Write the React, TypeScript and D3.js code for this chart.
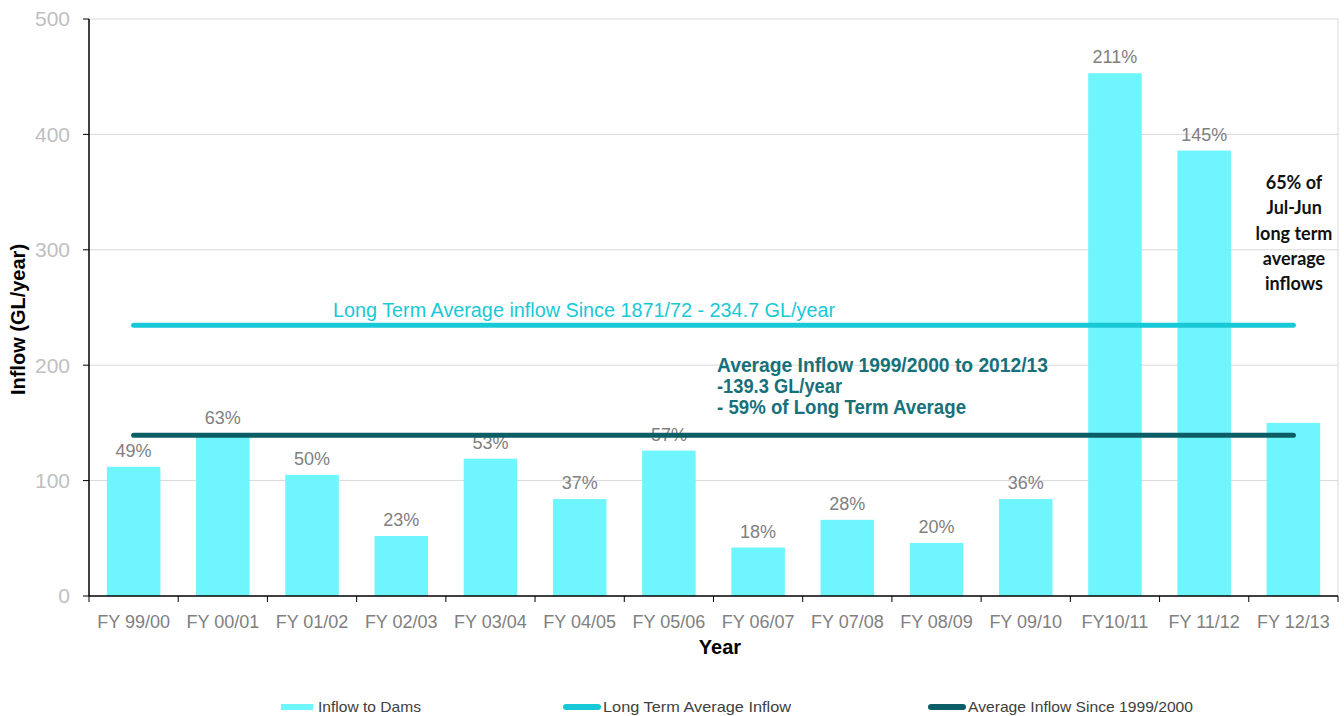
import * as d3 from "d3"

// Dam inflows by financial year (GL/year)
const categories = [
  "FY 99/00", "FY 00/01", "FY 01/02", "FY 02/03", "FY 03/04", "FY 04/05", "FY 05/06",
  "FY 06/07", "FY 07/08", "FY 08/09", "FY 09/10", "FY10/11", "FY 11/12", "FY 12/13",
]
const inflows = [112, 140, 105, 52, 119, 84, 126, 42, 66, 46, 84, 453, 386, 150]
const pctLabels = ["49%", "63%", "50%", "23%", "53%", "37%", "57%", "18%", "28%", "20%", "36%", "211%", "145%", ""]
const longTermAvg = 234.7
const recentAvg = 139.3
const yTicks = [0, 100, 200, 300, 400, 500]
const noteLines = ["65% of", "Jul-Jun", "long term", "average", "inflows"]
const legendItems = ["Inflow to Dams", "Long Term Average Inflow", "Average Inflow Since 1999/2000"]

const barColor = "#6ff5fd"
const longColor = "#17c9d6"
const avgColor = "#0b5e66"
const narrow = "'Liberation Sans Narrow', 'Arial Narrow', sans-serif"
const arial = "'Liberation Sans', Arial, sans-serif"

export default function App() {
  const width = 1344
  const height = 716
  const left = 89
  const right = 1338
  const top = 19
  const bottom = 596

  const x = d3.scaleBand().domain(categories).range([left, right]).paddingInner(0.4).paddingOuter(0.2)
  const y = d3.scaleLinear().domain([0, 500]).range([bottom, top])

  const firstMid = x(categories[0])! + x.bandwidth() / 2
  const lastMid = x(categories[categories.length - 1])! + x.bandwidth() / 2
  const step = x.step()
  const legendX = [278, 563, 928]
  const legendLen = [103, 188, 225]
  const legendColors = [barColor, longColor, avgColor]

  return (
    <svg width={width} height={height} style={{ position: "absolute", left: 0, top: 0, background: "#fff" }}>
      {/* grid */}
      {yTicks.filter(t => t > 0).map(t => (
        <line key={t} x1={left} x2={right} y1={y(t)} y2={y(t)} stroke="#d9d9d9" strokeWidth={1} />
      ))}
      <line x1={right} x2={right} y1={top} y2={bottom} stroke="#d9d9d9" strokeWidth={1} />
      {yTicks.map(t => (
        <g key={"t" + t}>
          <line x1={left - 6} x2={left} y1={y(t)} y2={y(t)} stroke="#000" />
          <text x={70} y={y(t)} dy="0.35em" textAnchor="end" fontFamily={arial} fontSize={21} fill="#c0c0c0">{t}</text>
        </g>
      ))}

      {/* bars */}
      {categories.map((c, i) => (
        <rect key={c} x={x(c)} y={y(inflows[i])} width={x.bandwidth()} height={bottom - y(inflows[i])} fill={barColor} />
      ))}
      {categories.map((c, i) => (
        <text key={"p" + c} x={x(c)! + x.bandwidth() / 2} y={y(inflows[i]) - 10} textAnchor="middle"
          fontFamily={arial} fontSize={18} fill="#808080">{pctLabels[i]}</text>
      ))}

      {/* axes */}
      <line x1={left} x2={left} y1={top} y2={bottom} stroke="#000" strokeWidth={1.5} />
      <line x1={left} x2={right} y1={bottom} y2={bottom} stroke="#000" strokeWidth={1.5} />
      {d3.range(categories.length + 1).map(i => (
        <line key={"xt" + i} x1={left + i * step} x2={left + i * step} y1={bottom} y2={bottom + 6} stroke="#000" />
      ))}
      {categories.map(c => (
        <text key={"x" + c} x={x(c)! + x.bandwidth() / 2} y={628} textAnchor="middle"
          fontFamily={arial} fontSize={18} fill="#808080">{c}</text>
      ))}
      <text x={720} y={654} textAnchor="middle" fontFamily={arial} fontWeight="bold" fontSize={20} fill="#000">Year</text>
      <text transform={`translate(25,${(top + bottom) / 2 + 12}) rotate(-90)`} textAnchor="middle"
        fontFamily={arial} fontWeight="bold" fontSize={20} fill="#000">Inflow (GL/year)</text>

      {/* average lines */}
      <line x1={firstMid} x2={lastMid} y1={y(longTermAvg)} y2={y(longTermAvg)} stroke={longColor} strokeWidth={5} strokeLinecap="round" />
      <line x1={firstMid} x2={lastMid} y1={y(recentAvg)} y2={y(recentAvg)} stroke={avgColor} strokeWidth={5} strokeLinecap="round" />

      {/* annotations */}
      <text x={333} y={317} fontFamily={narrow} fontSize={20} fill={longColor} textLength={502} lengthAdjust="spacingAndGlyphs">
        Long Term  Average  inflow Since 1871/72  - 234.7  GL/year
      </text>
      <g fontFamily={narrow} fontSize={20} fill="#17707a" fontWeight="bold">
        <text x={717} y={372} textLength={331} lengthAdjust="spacingAndGlyphs">Average Inflow  1999/2000  to  2012/13</text>
        <text x={717} y={393} textLength={125} lengthAdjust="spacingAndGlyphs">-139.3 GL/year</text>
        <text x={717} y={414} textLength={249} lengthAdjust="spacingAndGlyphs">- 59%  of  Long Term Average</text>
      </g>
      <g fontFamily="Lato, 'Open Sans', sans-serif" fontWeight="bold" fontSize={18} fill="#111" textAnchor="middle">
        {noteLines.map((l, i) => (
          <text key={l} x={1294} y={189 + i * 25.3}>{l}</text>
        ))}
      </g>

      {/* legend */}
      {legendItems.map((l, i) => (
        <g key={l}>
          <line x1={legendX[i] + 3} x2={legendX[i] + 35} y1={707} y2={707} stroke={legendColors[i]} strokeWidth={6}
            strokeLinecap={i === 0 ? "butt" : "round"} />
          <text x={legendX[i] + 40} y={712} fontFamily={narrow} fontSize={15} fill="#404040"
            textLength={legendLen[i]} lengthAdjust="spacingAndGlyphs">{l}</text>
        </g>
      ))}
    </svg>
  )
}
